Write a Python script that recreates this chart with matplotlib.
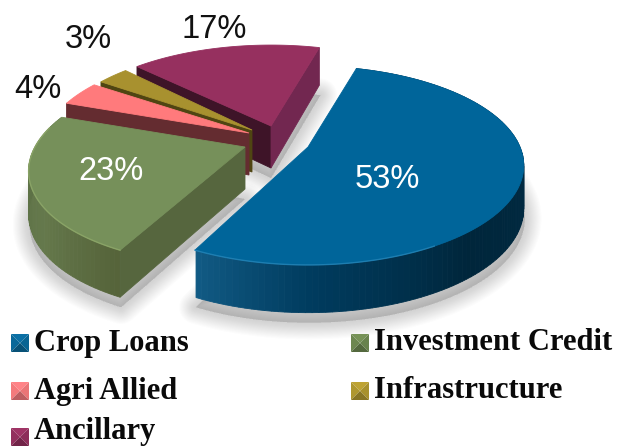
import numpy as np
import matplotlib
matplotlib.use("Agg")
import matplotlib.pyplot as plt
from matplotlib.colors import to_rgb

labels = ["Crop Loans", "Investment Credit", "Agri Allied", "Infrastructure", "Ancillary"]
values = [53, 23, 4, 3, 17]
top_colors = ["#00659a", "#76905a", "#ff7a7c", "#a8912f", "#96305f"]
legend_colors = ["#0a6a9c", "#6f8a52", "#f97c7f", "#b39a30", "#96305f"]

# slice apex in pixels, horizontal radius and a small skew per slice
APEX = [(308, 147), (245, 147), (249, 133), (252, 130), (271, 126)]
RX = [212, 210, 205, 200, 212]
SKEW = [0, 12, 0, 0, 0]
RY = 96
PERSP = 0.186
DEPTH = 42
START = 15.6

fig = plt.figure(figsize=(6.21, 4.48), dpi=100)
ax = fig.add_axes([0, 0, 1, 1])
ax.set_xlim(0, 621)
ax.set_ylim(448, 0)
ax.axis("off")


def rim(i, th):
    # point on the top rim of slice i, th in degrees clockwise from the top
    t = np.radians(th)
    k = 1 + PERSP * np.cos(t)
    return APEX[i][0] + (RX[i] * np.sin(t) + SKEW[i] * np.cos(t)) / k, APEX[i][1] - RY * np.cos(t) / k


def drop(th):
    return DEPTH / (1 + 0.12 * np.cos(np.radians(th)))


spans = []
a = START
for v in values:
    spans.append((a, a + v * 3.6))
    a += v * 3.6


def shade(c, f):
    return tuple(min(1, x * f) for x in to_rgb(c))


def quad(xs, ys, c, z):
    ax.fill(xs, ys, color=c, lw=0.6, zorder=z)


def curved_wall(i, stops, z):
    a0, a1 = spans[i]
    ths = np.arange(a0, a1, 1.5)
    st = np.array([s[0] for s in stops])
    rgb = np.array([to_rgb(s[1]) for s in stops])
    for t0, t1 in zip(ths[:-1], ths[1:]):
        x0, y0 = rim(i, t0)
        x1, y1 = rim(i, t1)
        m = (t0 + t1) / 2
        c = [np.interp(m, st, rgb[:, k]) for k in range(3)]
        quad([x0, x1, x1, x0], [y0, y1, y1 + drop(t1), y0 + drop(t0)], c, z)


def side_wall(i, th, c, z):
    x, y = rim(i, th)
    ax0, ay0 = APEX[i]
    quad([x, ax0, ax0, x], [y, ay0, ay0 + DEPTH, y + drop(th)], c, z)


def top_face(i, z):
    ths = np.linspace(spans[i][0], spans[i][1], 120)
    xs, ys = rim(i, ths)
    quad(np.r_[APEX[i][0], xs], np.r_[APEX[i][1], ys], top_colors[i], z)


# soft shadow under the pie
for i in [0, 1, 4]:
    ths = np.linspace(spans[i][0], spans[i][1], 80)
    xs, ys = rim(i, ths)
    ys = ys + np.array([drop(t) for t in ths]) + 10
    xs = xs + 1
    px = np.r_[APEX[i][0], xs]
    py = np.r_[APEX[i][1] + DEPTH + 10, ys]
    for w in np.arange(24, 0, -1.5):
        ax.fill(px, py, fc="#777777", ec="#777777", lw=w, alpha=0.018,
                joinstyle="round", zorder=1)

# back to front: purple, olive, pink, green, blue
side_wall(4, spans[4][0], "#3e1428", 2)
side_wall(4, spans[4][1], "#722750", 2)
top_face(4, 3)

side_wall(3, spans[3][0], "#4f4512", 4)
top_face(3, 5)
side_wall(2, spans[2][0], "#642c30", 6)
top_face(2, 7)

curved_wall(1, [(206, "#556339"), (235, "#65794c"), (270, "#5c7045"), (290, "#5c7045")], 8)
side_wall(1, spans[1][0], "#56663e", 8)
top_face(1, 9)
ths = np.linspace(spans[1][0], 282, 80)
ax.plot(*rim(1, ths), color="#8fa96a", lw=1.0, alpha=0.8, zorder=10)

curved_wall(0, [(15, "#002a42"), (95, "#002a42"), (140, "#00263b"), (180, "#003c5f"), (207, "#125c86")], 11)
top_face(0, 12)
ths = np.linspace(150, spans[0][1], 60)
ax.plot(*rim(0, ths), color="#2a8abd", lw=1.0, alpha=0.7, zorder=13)

# percent labels
pct_pos = [(387, 180), (111, 172), (38, 89), (88, 40), (214, 29)]
pct_col = ["white", "white", "#111111", "#111111", "#111111"]
for v, (x, y), c in zip(values, pct_pos, pct_col):
    ax.text(x, y, f"{v}%", ha="center", va="center", fontsize=23.5,
            family="Liberation Sans", color=c, zorder=20)

# legend with bevelled squares
leg_x = [11, 351, 11, 351, 11]
leg_y = [334, 334, 382, 382, 428]
text_y = [343, 343, 391, 391, 432]
S = 18
for name, x, y, ty, c in zip(labels, leg_x, leg_y, text_y, legend_colors):
    cx, cy = x + S / 2, y + S / 2
    ax.fill([x, x + S, cx], [y, y, cy], color=shade(c, 1.06), lw=0, zorder=20)
    ax.fill([x, x, cx], [y, y + S, cy], color=shade(c, 0.98), lw=0, zorder=20)
    ax.fill([x + S, x + S, cx], [y, y + S, cy], color=shade(c, 0.94), lw=0, zorder=20)
    ax.fill([x, x + S, cx], [y + S, y + S, cy], color=shade(c, 0.76), lw=0, zorder=20)
    ax.text(x + S + 5, ty, name, ha="left", va="center", fontsize=22,
            family="Liberation Serif", fontweight="bold", color="#0a0a0a", zorder=20)

fig.savefig("out.png", dpi=100, facecolor="white")
